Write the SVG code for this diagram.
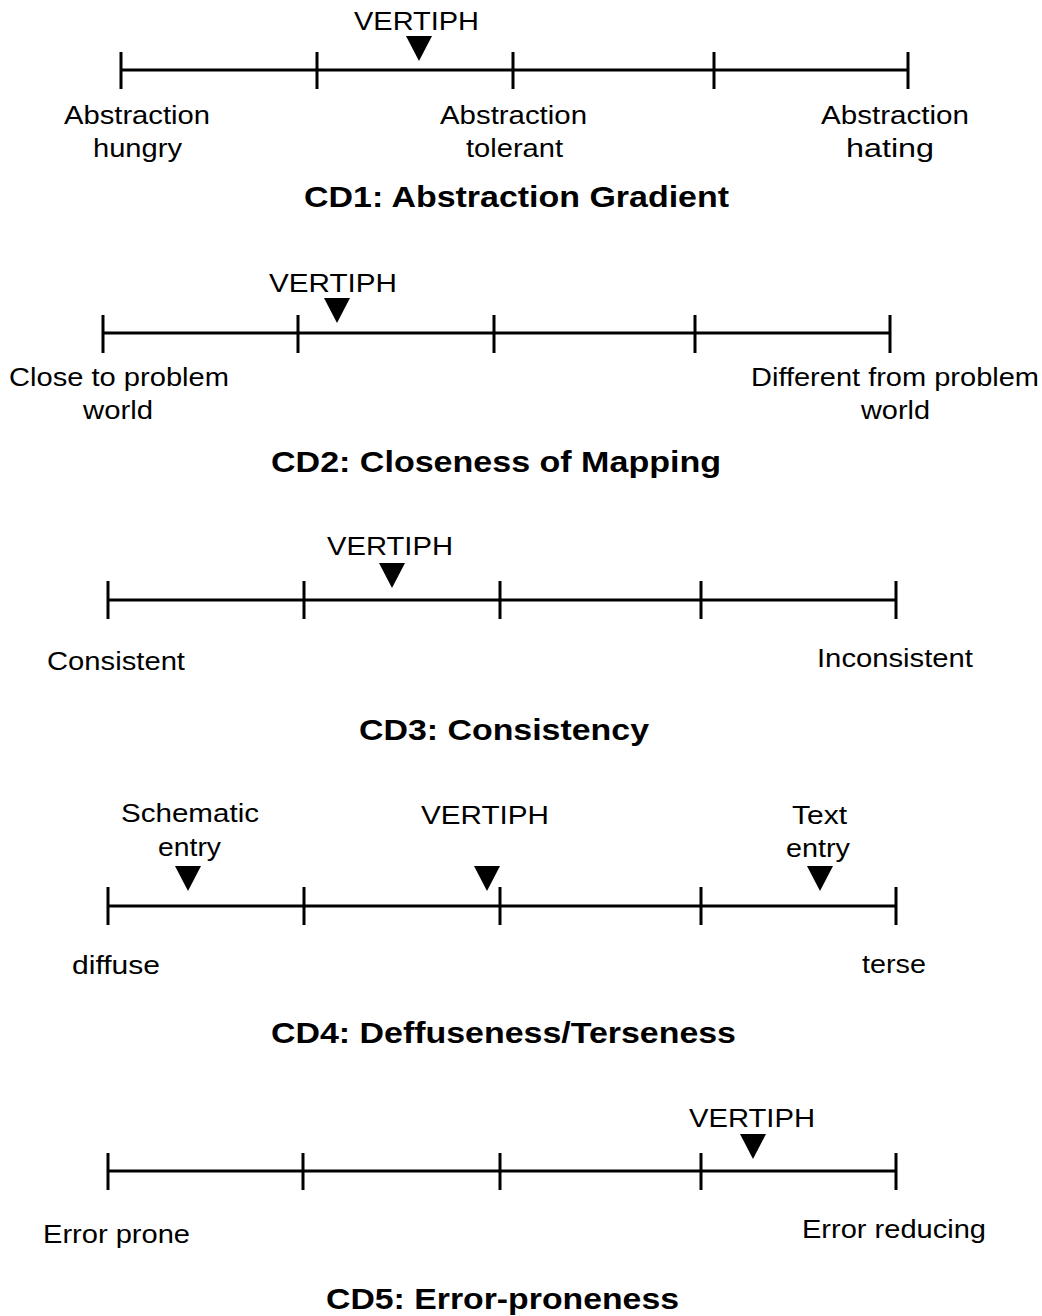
<svg xmlns="http://www.w3.org/2000/svg" xmlns:xlink="http://www.w3.org/1999/xlink" width="1042" height="1316" viewBox="0 0 1042 1316">
  <style>
    .axis { stroke: #000; stroke-width: 3; fill: none; stroke-linecap: butt; }
    .lbl { font-family: "Liberation Sans", Arial, sans-serif; font-size: 25px; fill: #000; }
    .ttl { font-family: "Liberation Sans", Arial, sans-serif; font-size: 30px; font-weight: bold; fill: #000; }
  </style>
  <defs>
    <!-- downward pointer, apex at (0,25) -->
    <path id="mark" d="M-13,0 L13,0 L0,25 Z" fill="#000"/>
  </defs>
  <rect width="1042" height="1316" fill="#fff"/>

  <!-- CD1 -->
  <g id="cd1">
    <path class="axis" d="M121,70 H908 M121,52 V89 M317,52 V89 M513,52 V89 M714,52 V89 M908,52 V89"/>
    <use xlink:href="#mark" x="419" y="36"/>
    <text class="lbl" x="354" y="30" textLength="125" lengthAdjust="spacingAndGlyphs">VERTIPH</text>
    <text class="lbl" x="64" y="124" textLength="146" lengthAdjust="spacingAndGlyphs">Abstraction</text>
    <text class="lbl" x="93" y="157" textLength="89" lengthAdjust="spacingAndGlyphs">hungry</text>
    <text class="lbl" x="440" y="124" textLength="147" lengthAdjust="spacingAndGlyphs">Abstraction</text>
    <text class="lbl" x="466" y="157" textLength="97" lengthAdjust="spacingAndGlyphs">tolerant</text>
    <text class="lbl" x="821" y="124" textLength="148" lengthAdjust="spacingAndGlyphs">Abstraction</text>
    <text class="lbl" x="846" y="157" textLength="88" lengthAdjust="spacingAndGlyphs">hating</text>
    <text class="ttl" x="304" y="207" textLength="425" lengthAdjust="spacingAndGlyphs">CD1: Abstraction Gradient</text>
  </g>

  <!-- CD2 -->
  <g id="cd2">
    <path class="axis" d="M103,333 H890 M103,315 V353 M298,315 V353 M494,315 V353 M695,315 V353 M890,315 V353"/>
    <use xlink:href="#mark" x="337" y="298"/>
    <text class="lbl" x="269" y="292" textLength="128" lengthAdjust="spacingAndGlyphs">VERTIPH</text>
    <text class="lbl" x="9" y="386" textLength="220" lengthAdjust="spacingAndGlyphs">Close to problem</text>
    <text class="lbl" x="83" y="419" textLength="70" lengthAdjust="spacingAndGlyphs">world</text>
    <text class="lbl" x="751" y="386" textLength="288" lengthAdjust="spacingAndGlyphs">Different from problem</text>
    <text class="lbl" x="861" y="419" textLength="69" lengthAdjust="spacingAndGlyphs">world</text>
    <text class="ttl" x="271" y="472" textLength="450" lengthAdjust="spacingAndGlyphs">CD2: Closeness of Mapping</text>
  </g>

  <!-- CD3 -->
  <g id="cd3">
    <path class="axis" d="M108,600 H896 M108,581 V619 M304,581 V619 M500,581 V619 M701,581 V619 M896,581 V619"/>
    <use xlink:href="#mark" x="392" y="563"/>
    <text class="lbl" x="327" y="555" textLength="126" lengthAdjust="spacingAndGlyphs">VERTIPH</text>
    <text class="lbl" x="47" y="670" textLength="138" lengthAdjust="spacingAndGlyphs">Consistent</text>
    <text class="lbl" x="817" y="667" textLength="156" lengthAdjust="spacingAndGlyphs">Inconsistent</text>
    <text class="ttl" x="359" y="740" textLength="290" lengthAdjust="spacingAndGlyphs">CD3: Consistency</text>
  </g>

  <!-- CD4 -->
  <g id="cd4">
    <path class="axis" d="M108,906 H896 M108,887 V925 M304,887 V925 M500,887 V925 M701,887 V925 M896,887 V925"/>
    <use xlink:href="#mark" x="188" y="866"/>
    <use xlink:href="#mark" x="487" y="866"/>
    <use xlink:href="#mark" x="820" y="866"/>
    <text class="lbl" x="121" y="822" textLength="138" lengthAdjust="spacingAndGlyphs">Schematic</text>
    <text class="lbl" x="158" y="856" textLength="63" lengthAdjust="spacingAndGlyphs">entry</text>
    <text class="lbl" x="421" y="824" textLength="128" lengthAdjust="spacingAndGlyphs">VERTIPH</text>
    <text class="lbl" x="792" y="824" textLength="55" lengthAdjust="spacingAndGlyphs">Text</text>
    <text class="lbl" x="786" y="857" textLength="64" lengthAdjust="spacingAndGlyphs">entry</text>
    <text class="lbl" x="72" y="974" textLength="88" lengthAdjust="spacingAndGlyphs">diffuse</text>
    <text class="lbl" x="862" y="973" textLength="64" lengthAdjust="spacingAndGlyphs">terse</text>
    <text class="ttl" x="271" y="1043" textLength="465" lengthAdjust="spacingAndGlyphs">CD4: Deffuseness/Terseness</text>
  </g>

  <!-- CD5 -->
  <g id="cd5">
    <path class="axis" d="M108,1171 H896 M108,1153 V1190 M303,1153 V1190 M500,1153 V1190 M701,1153 V1190 M896,1153 V1190"/>
    <use xlink:href="#mark" x="753" y="1134"/>
    <text class="lbl" x="689" y="1127" textLength="126" lengthAdjust="spacingAndGlyphs">VERTIPH</text>
    <text class="lbl" x="43" y="1243" textLength="147" lengthAdjust="spacingAndGlyphs">Error prone</text>
    <text class="lbl" x="802" y="1238" textLength="184" lengthAdjust="spacingAndGlyphs">Error reducing</text>
    <text class="ttl" x="326" y="1309" textLength="353" lengthAdjust="spacingAndGlyphs">CD5: Error-proneness</text>
  </g>

  <!-- no connectors between the scales -->
  <g id="connectors"/>
</svg>
